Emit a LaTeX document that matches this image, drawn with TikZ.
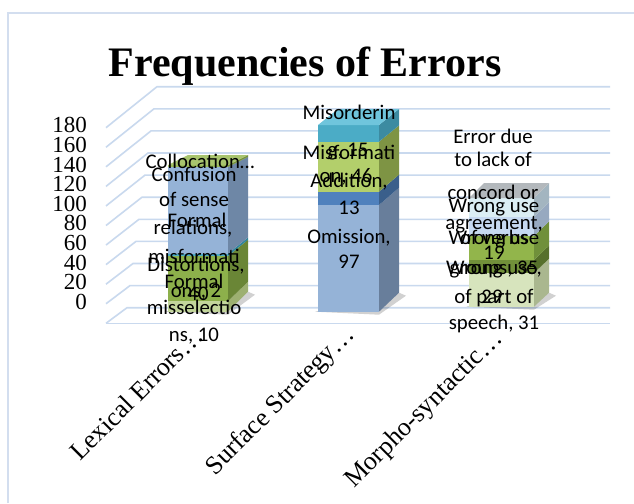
\documentclass[tikz,border=0pt]{standalone}
\usepackage{fontspec}
\setmainfont{Liberation Serif}
\newfontfamily\labfont{Carlito}
\definecolor{gridc}{HTML}{C9D9EE}
\definecolor{framec}{HTML}{D3DEEF}
\newcommand\mkbar[7]{\def\bxl{#1}\def\bxr{#2}\def\bdx{#3}\def\btop{#4}\def\bbot{#5}\def\bdyt{#6}\def\bdyb{#7}}
\newcommand\barseg[4]{%
 \definecolor{segfront}{HTML}{#3}\definecolor{segside}{HTML}{#4}%
 \pgfmathsetmacro\dlo{\bdyb+(\bdyt-\bdyb)*(\bbot-#1)/(\bbot-\btop)}%
 \pgfmathsetmacro\dhi{\bdyb+(\bdyt-\bdyb)*(\bbot-#2)/(\bbot-\btop)}%
 \fill[segfront] (\bxl,#1) rectangle (\bxr,#2);
 \fill[segside] (\bxr,#1) -- (\bxr+\bdx,#1-\dlo) -- (\bxr+\bdx,#2-\dhi) -- (\bxr,#2) -- cycle;}
\newcommand\bartop[1]{\definecolor{segtop}{HTML}{#1}\fill[segtop] (\bxl,\btop) -- (\bxl+\bdx,\btop-\bdyt) -- (\bxr+\bdx,\btop-\bdyt) -- (\bxr,\btop) -- cycle;}
\newcommand\barshadow{\fill[black,opacity=.18] (\bxl-3,\bbot) -- (\bxr,\bbot+3) -- (\bxr+\bdx+7,\bbot-\bdyb+3) -- (\bxr+\bdx,\bbot-\bdyb) -- cycle;}
\begin{document}
\begin{tikzpicture}[x=1pt,y=-1pt,
 grid/.style={draw=gridc, line width=1.6pt},
 dl/.style={font=\labfont\fontsize{20.8}{25}\selectfont, inner sep=0pt, text height=16pt, text depth=4pt},
 ax/.style={font=\fontsize{23}{26}\selectfont, inner sep=0pt, anchor=east, text height=19.6pt, text depth=4pt},
 cat/.style={font=\fontsize{26}{29}\selectfont, inner sep=0pt, anchor=east, rotate=45, text height=20pt, text depth=7pt}]
\useasboundingbox (0,0) rectangle (634,503);
\fill[white] (0,0) rectangle (634,503);
\draw[framec, line width=2pt] (8,503) -- (8,13) -- (634,13);
% walls and floor
\foreach \k in {0,...,10} {
 \pgfmathsetmacro\yf{127.7+19.56*\k}
 \pgfmathsetmacro\yb{86.7+22.1*\k}
 \pgfmathsetmacro\xb{157-3*\k}
 \draw[grid] (106,\yf) -- (\xb,\yb) -- (610,\yb);
}
\draw[grid] (106,323.3) -- (610,323.3);
% axis labels
\foreach \v [count=\i from 0] in {180,160,...,0}
 \node[ax] (y\v) at (87,125+19.6*\i) {\v};
% Lexical bar
\mkbar{168}{228}{20}{165}{311.7}{10}{20}
\barshadow
\barseg{311.7}{301}{C3D69B}{9DB071}
\barseg{301}{256}{8DB04B}{6A8636}
\barseg{256}{253.5}{4BACC6}{31859C}
\barseg{253.5}{167}{95B3D7}{6E87A6}
\barseg{167}{165}{9BBB59}{76923C}
\bartop{A8C46E}
% Surface bar
\mkbar{318}{379}{20}{125}{311.7}{16}{19}
\barshadow
\barseg{311.7}{205}{95B3D7}{687E9B}
\barseg{205}{191.7}{4F81BD}{3A5F8B}
\barseg{191.7}{141.7}{B3CF6B}{7E9444}
\barseg{141.7}{125}{4BACC6}{3C8BA1}
\bartop{6FC5DC}
% Morpho bar
\mkbar{469}{534}{15}{198}{306.7}{15}{14}
\barshadow
\barseg{306.7}{273}{D7E4BD}{AAB78F}
\barseg{273}{260}{71903A}{56702B}
\barseg{260}{236}{92B54B}{70903A}
\barseg{236}{217}{C6D9F1}{97A9C0}
\barseg{217}{198}{DBEEF4}{A3B5C0}
\bartop{B3B8BC}
% title
\node[font=\bfseries\fontsize{42}{46}\selectfont, anchor=base, inner sep=0pt] (title) at (305,76) {Frequencies of Errors};
% category labels
\node[cat] (c1) at (200,333) {Lexical Errors…};
\node[cat] (c2) at (351,331) {Surface Strategy…};
\node[cat] (c3) at (499,335) {Morpho-syntactic…};
% Lexical labels
\node[dl] (l1) at (200,162) {Collocation…};
\node[dl] (l2) at (194,175) {Confusion};
\node[dl] (l3) at (194,200) {of sense};
\node[dl] (l4) at (197,221) {Formal};
\node[dl] (l5) at (193,228) {relations,};
\node[dl] (l6) at (194,257) {misformati};
\node[dl] (l7) at (196,265) {Distortions,};
\node[dl] (l8) at (194,282) {Formal};
\node[dl] (l9) at (196,291) {ons, 2};
\node[dl] (l10) at (198,294) {40};
\node[dl] (l11) at (194,308) {misselectio};
\node[dl] (l12) at (194,335) {ns, 10};
% Surface labels
\node[dl] (s1) at (349,113) {Misorderin};
\node[dl] (s2) at (349,153) {Misformati};
\node[dl] (s3) at (348,150) {g, 15};
\node[dl] (s4) at (346,176) {on, 46};
\node[dl] (s5) at (349,181) {Addition,};
\node[dl] (s6) at (349,208) {13};
\node[dl] (s7) at (349,237) {Omission,};
\node[dl] (s8) at (349,262) {97};
% Morpho labels
\node[dl] (m1) at (493,137) {Error due};
\node[dl] (m2) at (493,160) {to lack of};
\node[dl] (m3) at (493,193) {concord or};
\node[dl] (m4) at (494,206) {Wrong use};
\node[dl] (m5) at (494,223) {agreement,};
\node[dl] (m6) at (494,238) {Wrong use};
\node[dl] (m7) at (494,238) {of verbs};
\node[dl] (m8) at (494,253) {19};
\node[dl] (m9) at (494,268) {Wrong use,};
\node[dl] (m10) at (494,268) {groups, 35};
\node[dl] (m11) at (494,297) {of part of};
\node[dl] (m12) at (492,297) {29};
\node[dl] (m13) at (494,323) {speech, 31};
\end{tikzpicture}
\end{document}
